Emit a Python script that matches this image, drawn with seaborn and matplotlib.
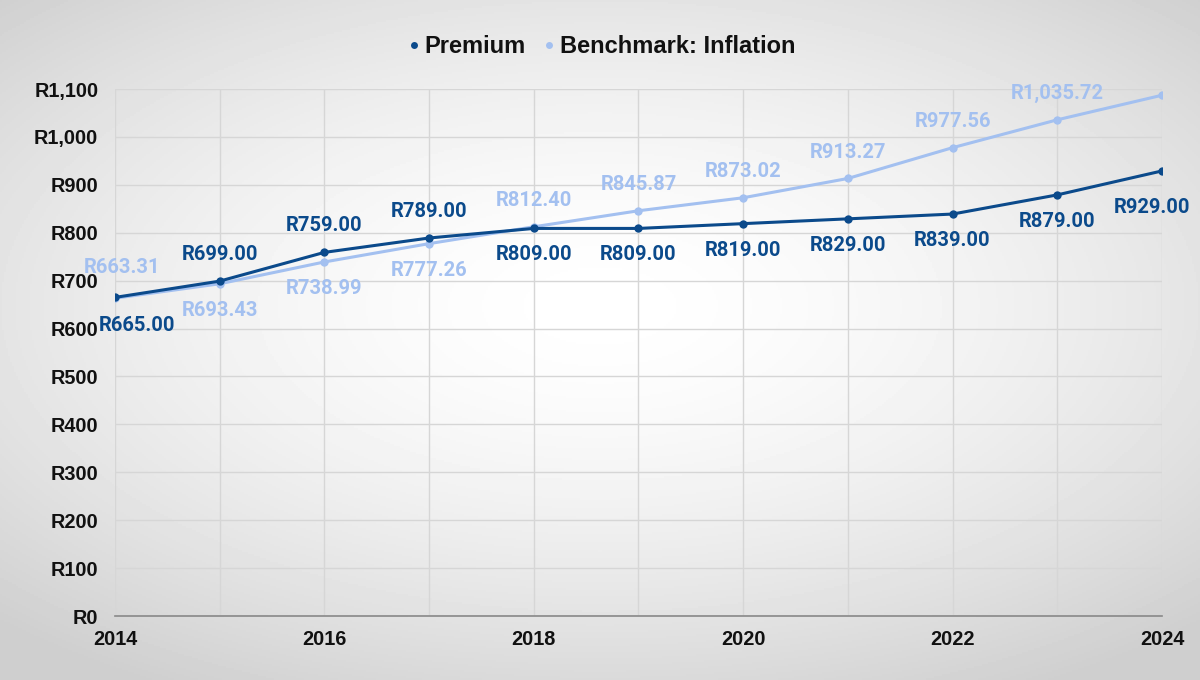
import numpy as np
import pandas as pd
import matplotlib
matplotlib.use("Agg")
import matplotlib.pyplot as plt
import matplotlib.ticker as ticker
import seaborn as sns

years = [2014, 2015, 2016, 2017, 2018, 2019, 2020, 2021, 2022, 2023, 2024]
premium = [665.00, 699.00, 759.00, 789.00, 809.00, 809.00, 819.00, 829.00, 839.00, 879.00, 929.00]
inflation = [663.31, 693.43, 738.99, 777.26, 812.40, 845.87, 873.02, 913.27, 977.56, 1035.72, 1087.00]
# label placement: +1 above the point, -1 below, 0 hidden
premium_side = [-1, 1, 1, 1, -1, -1, -1, -1, -1, -1, -1]
inflation_side = [1, -1, -1, -1, 1, 1, 1, 1, 1, 1, 0]

df = pd.DataFrame({
    "Year": years * 2,
    "Value": premium + inflation,
    "Series": ["Premium"] * len(years) + ["Benchmark: Inflation"] * len(years),
})

sns.set_theme(style="white")
plt.rcParams["font.family"] = ["Liberation Sans", "DejaVu Sans"]

colors = {"Premium": "#0b4a8b", "Benchmark: Inflation": "#a3c0f0"}

fig = plt.figure(figsize=(12, 6.8), dpi=100)

# radial gradient background
bg = fig.add_axes([0, 0, 1, 1], zorder=-10)
yy, xx = np.mgrid[-1:1:340j, -1:1:600j]
r = np.sqrt((xx * 0.9) ** 2 + ((yy + 0.1) * 1.0) ** 2)
bg.imshow(1 - 0.19 * np.clip(r / 1.3, 0, 1) ** 1.6, cmap="gray", vmin=0, vmax=1,
          aspect="auto", extent=[0, 1, 0, 1])
bg.axis("off")

ax = fig.add_axes([0.0958, 0.0941, 0.8725, 0.775])
ax.patch.set_alpha(0)

sns.lineplot(data=df, x="Year", y="Value", hue="Series", palette=colors,
             hue_order=["Benchmark: Inflation", "Premium"],
             marker="o", markersize=6, markeredgewidth=0, linewidth=2.2,
             ax=ax, legend=False)

ax.set_xlim(2014, 2024)
ax.set_ylim(0, 1100)
ax.yaxis.set_major_locator(ticker.MultipleLocator(100))
ax.xaxis.set_major_locator(ticker.MultipleLocator(1))
ax.yaxis.set_major_formatter(ticker.FuncFormatter(lambda v, p: f"R{v:,.0f}"))
ax.xaxis.set_major_formatter(ticker.FuncFormatter(lambda v, p: f"{int(v)}" if int(v) % 2 == 0 else ""))
ax.grid(True, color="#d6d6d6", linewidth=1)
ax.set_axisbelow(True)
for s in ["top", "right", "left"]:
    ax.spines[s].set_visible(False)
ax.spines["bottom"].set_color("#888888")
ax.spines["bottom"].set_linewidth(1.2)
ax.tick_params(axis="y", length=5, color="#d6d6d6", width=1, pad=7, labelsize=14.3)
ax.tick_params(axis="x", length=0, pad=10, labelsize=14.3)
for lab in ax.get_xticklabels() + ax.get_yticklabels():
    lab.set_fontweight("bold")
    lab.set_color("#111111")
ax.set_xlabel("")
ax.set_ylabel("")

lab_font = ["Roboto", "DejaVu Sans"]
for name, vals, sides in [("Premium", premium, premium_side),
                          ("Benchmark: Inflation", inflation, inflation_side)]:
    for x, v, s in zip(years, vals, sides):
        if s == 0:
            continue
        dx, dy = 0, 19
        if x == 2024:
            dx, dy = -7, 26
        elif x == 2014:
            dx = 16 if name == "Premium" else 5
            dy = 20 if name == "Premium" else 22
        ax.annotate(f"R{v:,.2f}", xy=(x, v), xytext=(dx, dy * s),
                    textcoords="offset points", ha="center", va="center",
                    fontsize=14.5, fontweight="bold", color=colors[name],
                    family=lab_font, annotation_clip=False)

handles = [plt.Line2D([], [], marker="o", linestyle="", markersize=5,
                      markeredgewidth=0, color=colors[k])
           for k in ["Premium", "Benchmark: Inflation"]]
leg = fig.legend(handles, ["Premium", "Benchmark: Inflation"], loc="center",
                 bbox_to_anchor=(0.5, 0.931), ncol=2, frameon=False,
                 handletextpad=0.05, columnspacing=0.6, handlelength=0.8,
                 prop={"size": 17, "weight": "bold", "family": ["Liberation Sans"]})
for t in leg.get_texts():
    t.set_color("#111111")

fig.savefig("out.png", dpi=100)
